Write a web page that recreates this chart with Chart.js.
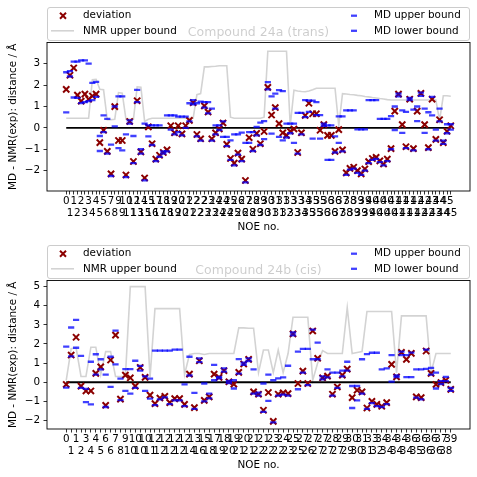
<!DOCTYPE html>
<html><head><meta charset="utf-8">
<script src="https://cdn.jsdelivr.net/npm/chart.js@4"></script>
<style>
html,body{margin:0;padding:0;background:#fff;}
#wrap{position:relative;width:477px;height:477px;overflow:hidden;}
canvas{position:absolute;left:0;}
</style></head><body>
<div id="wrap">
<canvas id="c1" width="477" height="238" style="top:0"></canvas>
<canvas id="c2" width="477" height="238" style="top:238px"></canvas>
</div>
<script>
const FONT = "'DejaVu Sans', 'Liberation Sans', sans-serif";

// ---------- Compound 24a (trans) ----------
const topTitle = 'Compound 24a (trans)';
const topLabels = [0,1,1,2,2,3,3,4,4,5,5,6,7,8,9,9,10,11,12,13,14,15,15,16,17,17,18,18,19,19,20,20,21,21,22,22,22,23,23,23,24,24,24,24,25,25,26,26,27,28,28,29,29,30,30,31,31,31,31,32,33,33,33,34,34,35,35,35,35,36,36,36,36,37,37,38,38,39,39,39,39,39,40,40,40,40,40,40,41,41,41,41,41,41,42,42,42,42,43,43,44,44,45,45];
const topDeviation = [1.8,2.46,2.8,1.53,1.25,1.58,1.34,1.49,1.58,-0.69,-0.11,-1.1,-2.15,0.99,-0.59,-0.59,-2.2,0.3,-1.57,1.27,-1.12,-2.34,0.05,-0.74,-1.46,-1.28,-1.15,-1.03,0.1,-0.23,0.1,-0.28,0.1,0.35,1.18,-0.31,-0.51,1.03,0.74,-0.51,-0.23,-0.05,0.23,-0.77,-1.43,-1.65,-1.18,-1.46,-2.46,-0.46,-1.0,-0.26,-0.74,-0.17,1.89,0.6,0.95,0.2,-0.23,-0.35,-0.16,-0.05,-1.15,-0.23,0.58,1.15,0.66,0.66,-0.11,0.15,-0.35,-0.35,-1.1,-0.08,-1.03,-2.1,-1.89,-1.84,-2.0,-2.15,-1.92,-1.58,-1.43,-1.38,-1.54,-1.69,-1.46,-0.97,0.78,1.58,0.15,-0.88,1.34,-0.97,0.78,1.61,0.15,-0.92,1.34,-0.54,0.38,-0.69,-0.16,0.1];
const topNmrUpper = [0.45,0.45,0.45,0.45,0.45,0.45,0.45,2.25,2.27,1.8,1.78,0.38,0.38,0.4,1.65,1.62,0.4,0.4,0.4,1.92,1.9,0.3,0.4,0.45,0.45,0.45,0.45,0.45,0.45,0.45,0.45,0.45,0.45,0.45,0.45,1.55,1.6,2.85,2.85,2.87,2.88,2.9,2.9,2.9,0.5,0.45,0.45,0.45,0.45,0.45,0.45,0.45,0.45,0.5,3.58,3.58,3.58,3.58,3.58,3.58,0.1,1.76,1.72,1.7,1.69,1.72,1.78,1.85,1.85,1.85,1.85,1.85,1.85,0.1,1.6,1.58,1.56,1.55,1.52,1.5,1.47,1.45,1.42,1.4,1.37,1.35,1.32,1.3,1.3,1.3,1.3,1.3,1.3,1.3,1.3,1.3,1.3,1.3,1.3,1.3,0.35,1.5,1.5,1.48];
const topMdUpper = [2.6,2.65,3.1,3.1,3.15,3.15,3.0,2.1,2.15,-0.38,0.58,0.42,-0.78,1.0,1.47,1.47,-0.3,0.35,-0.38,1.78,-1.0,0.2,0.12,0.12,0.12,0.12,-1.1,0.58,0.58,0.58,0.53,0.53,0.53,1.15,1.3,1.15,1.23,1.2,1.2,0.9,0.12,0.12,0.3,-0.42,-0.58,-0.3,-0.3,-0.22,-0.7,-0.2,-0.2,0.05,0.25,0.32,2.14,1.47,1.6,1.76,1.72,0.2,0.2,0.2,0.7,0.7,1.3,1.27,1.27,1.2,0.6,0.2,0.12,0.12,-0.4,0.54,0.54,0.82,0.82,0.82,-0.07,-0.07,-0.07,1.3,1.3,1.3,0.42,0.42,0.42,0.55,1.0,1.6,0.82,0.75,1.4,0.85,1.0,1.65,0.9,0.73,1.45,-0.08,0.9,-0.6,0.17,0.17];
const topMdLower = [0.72,2.4,1.42,1.4,1.16,1.2,1.25,1.3,1.45,-1.08,-0.2,-1.2,-2.25,0.07,-0.95,-1.05,-2.3,0.2,-1.65,1.2,-1.2,-2.45,-0.4,-0.8,-1.55,-1.35,-1.2,-1.1,-0.08,-0.3,-0.2,-0.35,0.0,0.3,1.1,-0.4,-0.6,0.95,0.68,-0.6,-0.3,-0.1,-0.42,-0.85,-1.5,-1.75,-1.25,-1.55,-2.55,-0.7,-1.08,-0.35,-0.8,-0.53,1.8,-0.27,0.9,-0.42,-0.58,-0.45,-0.25,-0.7,-1.2,-0.3,0.5,0.75,-0.5,0.6,-0.5,0.1,-1.5,-1.5,-1.15,-0.7,-1.1,-2.2,-1.95,-1.9,-2.1,-2.2,-2.0,-1.65,-1.5,-1.45,-1.6,-1.75,-1.55,-1.0,-0.1,1.47,-0.23,-0.95,1.3,-1.05,0.32,1.5,-0.23,-1.0,0.58,-0.6,0.3,-0.75,-0.25,-0.08];
const topYMin = -2.95, topYMax = 3.99;
const topYTicks = [-2,-1,0,1,2,3];

// ---------- Compound 24b (cis) ----------
const botTitle = 'Compound 24b (cis)';
const botEvenLabels = [0,1,3,4,6,7,9,10,10,12,12,12,12,13,15,17,18,19,20,21,21,23,24,25,27,27,27,28,29,30,31,33,34,34,34,36,36,36,37,39];
const botOddLabels = [1,2,4,5,6,8,10,10,11,12,12,12,14,16,18,19,20,21,21,22,22,22,23,25,26,27,27,27,29,30,31,32,34,34,34,35,36,36,38];
const botDeviation = [-0.12,1.42,2.35,-0.21,-0.46,-0.46,0.46,0.8,-1.21,1.16,2.46,-0.89,0.37,0.23,-0.21,0.77,0.25,-0.68,-1.12,-0.83,-0.74,-1.07,-0.86,-0.86,-1.16,0.42,-1.33,1.12,-0.95,-0.77,0.42,0.25,0.6,0.02,-0.1,0.51,0.95,1.19,-0.51,-0.63,-1.47,-0.54,-2.05,-0.63,-0.56,-0.6,2.53,-0.07,0.58,-0.07,2.68,1.25,0.23,0.32,-0.63,-0.25,0.37,0.68,-0.81,-0.42,-0.51,-1.35,-1.0,-1.16,-1.26,-1.07,0.93,0.28,1.56,1.19,1.51,-0.77,-0.81,1.63,0.46,-0.12,-0.02,0.1,-0.38];
const botNmrUpper = [0.1,1.75,1.8,0.3,0.3,1.83,1.83,0.4,1.6,1.6,0.3,0.3,0.3,5.0,5.0,5.0,5.0,0.25,3.85,3.85,3.85,3.85,3.85,3.85,0.4,1.45,1.5,1.5,1.45,1.5,1.5,1.5,1.5,1.5,1.5,2.84,2.84,2.82,2.82,0.5,1.68,1.68,0.5,1.68,0.5,1.5,3.4,3.4,3.4,3.4,0.1,1.0,1.65,1.5,1.5,1.5,1.5,3.9,1.5,1.55,1.6,3.7,3.7,3.7,3.7,3.7,3.7,0.5,3.47,3.47,3.47,3.47,3.47,3.47,0.5,1.5,1.5,1.5,1.5];
const botMdUpper = [1.86,2.86,3.26,1.38,-0.35,1.07,1.46,1.2,0.4,1.33,2.7,0.19,0.68,0.68,1.12,0.85,0.3,0.19,1.65,1.65,1.65,1.65,1.7,1.7,-0.12,1.33,-0.56,1.25,-0.07,-0.6,0.9,0.28,0.72,0.07,0.1,1.21,1.02,1.25,0.67,-0.55,-0.07,0.4,0.1,0.2,0.25,0.86,2.6,1.6,1.74,1.74,2.75,2.07,0.3,0.67,0.5,0.5,0.6,1.07,-0.2,-0.2,1.2,1.47,1.54,1.54,0.67,0.72,1.42,0.35,1.6,1.42,1.55,0.67,0.67,1.7,0.75,0.5,0.05,0.28,-0.3];
const botMdLower = [-0.28,1.35,1.8,-0.3,-1.04,-1.16,0.4,0.67,-1.3,-0.25,0.93,-0.94,-0.46,-0.6,-0.3,0.6,-0.46,-0.86,-1.2,-0.9,-0.8,-1.15,-0.95,-0.95,-1.25,0.35,-1.4,1.05,-1.0,-0.85,0.1,0.2,0.55,-0.05,-0.33,0.45,0.9,1.1,-0.6,-0.7,-1.55,-0.98,-2.1,-0.7,-0.65,-0.7,2.45,-0.37,0.5,-0.15,1.2,1.2,0.15,0.25,-0.7,-0.3,0.3,0.6,-1.35,-0.95,-0.6,-1.4,-1.1,-1.25,-1.3,-1.15,0.03,0.26,1.42,0.26,0.26,-0.81,-0.9,0.7,0.4,-0.33,-0.1,0.05,-0.45];
const botYMin = -2.45, botYMax = 5.32;
const botYTicks = [-2,-1,0,1,2,3,4,5];

const legendItems = ['deviation','NMR upper bound','MD upper bound','MD lower bound'];
const yTitle = 'MD - NMR(exp): distance / Å';
const xTitle = 'NOE no.';

const COL = {dev:'#8b0000', nmr:'#d3d3d3', md:'rgba(0,0,255,0.75)', zero:'#000'};

function pts(arr){ return arr.map((v,i)=>({x:i,y:v})); }
function fmt(v){ return v < 0 ? '\u2212' + Math.abs(v) : String(v); }

const decor = {
  id: 'decor',
  afterDatasetsDraw(chart) {
    const {ctx, chartArea:a} = chart;
    ctx.save();
    ctx.strokeStyle = '#000'; ctx.lineWidth = 0.9;
    ctx.strokeRect(a.left, a.top, a.right - a.left, a.bottom - a.top);
    ctx.restore();
  },
  afterDraw(chart, args, opts) {
    const {ctx, chartArea:a} = chart;
    ctx.save();
    ctx.font = '12.5px ' + FONT;
    ctx.fillStyle = '#000'; ctx.textAlign = 'center'; ctx.textBaseline = 'middle';
    ctx.fillText(opts.title, (a.left + a.right) / 2, 33);
    const x0 = 47.5, y0 = 7.5, x1 = 469.5, y1 = 40.5, r = 2.5;
    ctx.beginPath();
    ctx.moveTo(x0 + r, y0); ctx.lineTo(x1 - r, y0); ctx.arcTo(x1, y0, x1, y0 + r, r);
    ctx.lineTo(x1, y1 - r); ctx.arcTo(x1, y1, x1 - r, y1, r);
    ctx.lineTo(x0 + r, y1); ctx.arcTo(x0, y1, x0, y1 - r, r);
    ctx.lineTo(x0, y0 + r); ctx.arcTo(x0, y0, x0 + r, y0, r);
    ctx.closePath();
    ctx.fillStyle = 'rgba(255,255,255,0.8)'; ctx.fill();
    ctx.strokeStyle = '#cccccc'; ctx.lineWidth = 1; ctx.stroke();
    const r1 = 15.7, r2 = 30.8;
    ctx.strokeStyle = COL.dev; ctx.lineWidth = 2;
    ctx.beginPath();
    ctx.moveTo(60, r1 - 3); ctx.lineTo(66, r1 + 3);
    ctx.moveTo(66, r1 - 3); ctx.lineTo(60, r1 + 3);
    ctx.stroke();
    ctx.strokeStyle = COL.nmr; ctx.lineWidth = 1.6;
    ctx.beginPath(); ctx.moveTo(51, r2); ctx.lineTo(74, r2); ctx.stroke();
    ctx.strokeStyle = COL.md; ctx.lineWidth = 2.3;
    ctx.beginPath(); ctx.moveTo(351, r1); ctx.lineTo(357, r1); ctx.stroke();
    ctx.beginPath(); ctx.moveTo(351, r2); ctx.lineTo(357, r2); ctx.stroke();
    ctx.font = '10.4px ' + FONT; ctx.fillStyle = '#000';
    ctx.textAlign = 'left'; ctx.textBaseline = 'middle';
    ctx.fillText(legendItems[0], 83, r1);
    ctx.fillText(legendItems[1], 83, r2);
    ctx.fillText(legendItems[2], 374, r1);
    ctx.fillText(legendItems[3], 374, r2);
    ctx.restore();
  }
};

function makeChart(id, cfg) {
  const n = cfg.dev.length;
  const pad = 0.05 * (n - 1);
  return new Chart(document.getElementById(id), {
    type: 'scatter',
    data: {
      datasets: [
        {label: legendItems[0], data: pts(cfg.dev), pointStyle: 'crossRot', pointRadius: 4.4,
         borderColor: COL.dev, pointBorderColor: COL.dev, backgroundColor: COL.dev, pointBorderWidth: 2, order: 3},
        {label: legendItems[1], data: pts(cfg.nmr), showLine: true, pointRadius: 0,
         borderColor: COL.nmr, borderWidth: 1.6, order: 5},
        {label: legendItems[2], data: pts(cfg.up), pointStyle: 'line', pointRadius: 3.1,
         borderColor: COL.md, pointBorderColor: COL.md, pointBorderWidth: 2.3, order: 2},
        {label: legendItems[3], data: pts(cfg.lo), pointStyle: 'line', pointRadius: 3.1,
         borderColor: COL.md, pointBorderColor: COL.md, pointBorderWidth: 2.3, order: 1},
        {label: 'zero', data: [{x:0,y:0},{x:n-1,y:0}], showLine: true, pointRadius: 0,
         borderColor: COL.zero, borderWidth: 1.9, order: 4}
      ]
    },
    options: {
      responsive: false, animation: false, events: [],
      layout: {padding: {top: 42.5, right: 7, left: 0, bottom: 0}},
      plugins: {legend: {display: false}, tooltip: {enabled: false}, title: {display: false},
        decor: {title: cfg.title}},
      scales: {
        x: {
          type: 'linear', min: -pad, max: (n - 1) + pad,
          afterBuildTicks: s => { s.ticks = cfg.labels.map((l, i) => ({value: i})); },
          afterFit: s => { s.height = 47; },
          border: {display: false},
          grid: {drawOnChartArea: false, drawTicks: true, tickLength: 3.5, color: '#000', lineWidth: 0.8},
          ticks: {autoSkip: false, maxRotation: 0, minRotation: 0, padding: 0.5, color: '#000',
            font: {family: FONT, size: 10.4, lineHeight: 1.15},
            callback: (v, i) => (i % 2 === 0 ? [String(cfg.labels[i]), ''] : ['', String(cfg.labels[i])])},
          title: {display: true, text: xTitle, color: '#000', font: {family: FONT, size: 10.4, lineHeight: 1.2},
            padding: {top: 0, bottom: 4.5}}
        },
        y: {
          min: cfg.ymin, max: cfg.ymax,
          afterBuildTicks: s => { s.ticks = cfg.yticks.map(v => ({value: v})); },
          afterFit: s => { s.width = 47; },
          border: {display: false},
          grid: {drawOnChartArea: false, drawTicks: true, tickLength: 3.5, color: '#000', lineWidth: 0.8},
          ticks: {padding: 3.5, color: '#000', font: {family: FONT, size: 10.4}, callback: v => fmt(v)},
          title: {display: true, text: yTitle, color: '#000', font: {family: FONT, size: 10.4, lineHeight: 1.2},
            padding: {top: 7, bottom: 0}}
        }
      }
    },
    plugins: [decor]
  });
}

const botLabels = [];
for (let i = 0; i < botDeviation.length; i++) {
  botLabels.push(i % 2 === 0 ? botEvenLabels[i / 2] : botOddLabels[(i - 1) / 2]);
}

makeChart('c1', {title: topTitle, labels: topLabels, dev: topDeviation, nmr: topNmrUpper,
  up: topMdUpper, lo: topMdLower, ymin: topYMin, ymax: topYMax, yticks: topYTicks});
makeChart('c2', {title: botTitle, labels: botLabels, dev: botDeviation, nmr: botNmrUpper,
  up: botMdUpper, lo: botMdLower, ymin: botYMin, ymax: botYMax, yticks: botYTicks});
</script>
</body></html>
